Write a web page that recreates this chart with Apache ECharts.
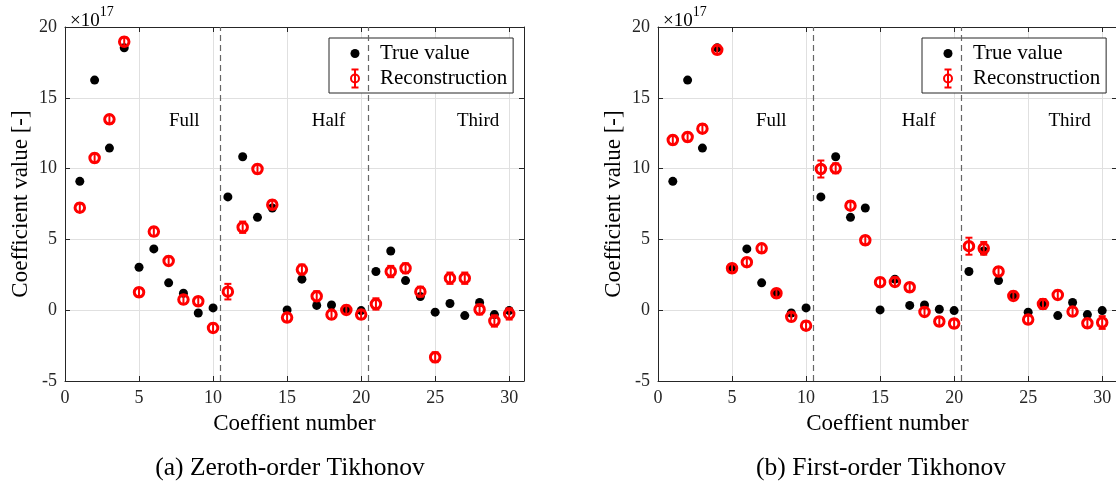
<!DOCTYPE html>
<html>
<head>
	<meta charset="utf-8" />
	<title>Tikhonov coefficients</title>
	<script src="https://cdn.jsdelivr.net/npm/echarts@6/dist/echarts.min.js"></script>
	<style>
		body { margin: 0; background: #fff; }
		#main { width: 1116px; height: 482px; }
	</style>
</head>
<body>
	<div id="main"></div>

	<script type="text/javascript">
		// coefficient index 1..30
		var coeffs = [1,2,3,4,5,6,7,8,9,10,11,12,13,14,15,16,17,18,19,20,21,22,23,24,25,26,27,28,29,30];

		// true values (x1e17), same in both panels
		var trueValue = [9.1,16.25,11.45,18.53,3.03,4.33,1.93,1.2,-0.2,0.16,8.0,10.84,6.56,7.22,0.02,2.19,0.34,0.37,0.07,-0.03,2.73,4.18,2.09,0.96,-0.14,0.47,-0.38,0.54,-0.31,-0.03];

		// (a) zeroth-order Tikhonov
		var reconZeroth = [7.24,10.75,13.48,18.96,1.27,5.55,3.48,0.75,0.63,-1.25,1.31,5.86,9.97,7.45,-0.52,2.87,0.99,-0.31,0.02,-0.31,0.44,2.73,2.96,1.31,-3.32,2.26,2.26,0.05,-0.76,-0.26];
		var errZeroth = [0.3,0.3,0.3,0.3,0.3,0.3,0.3,0.3,0.3,0.3,0.55,0.4,0.3,0.3,0.3,0.35,0.35,0.3,0.3,0.3,0.4,0.4,0.35,0.35,0.35,0.4,0.4,0.35,0.4,0.4];

		// (b) first-order Tikhonov
		var reconFirst = [12.02,12.23,12.82,18.39,2.96,3.39,4.37,1.2,-0.47,-1.09,9.97,10.02,7.38,4.94,1.98,2.0,1.62,-0.12,-0.8,-0.94,4.52,4.37,2.73,1.01,-0.66,0.44,1.08,-0.1,-0.92,-0.87];
		var errFirst = [0.3,0.3,0.3,0.3,0.3,0.3,0.3,0.3,0.3,0.3,0.6,0.35,0.3,0.3,0.3,0.3,0.3,0.3,0.3,0.3,0.6,0.45,0.3,0.3,0.3,0.35,0.3,0.3,0.3,0.45];

		var dividers = [10.5, 20.5];
		var regionNames = ['Full', 'Half', 'Third'];
		var regionXA = [8.05, 17.8, 27.9];
		var regionXB = [7.65, 17.6, 27.8];
		var regionY = 13.35;

		var serif = 'Liberation Serif';
		var axisColor = '#262626';
		var red = '#ff0000';

		var dotIcon = 'path://M5,0M5,20M5,5.5A4.5,4.5,0,1,1,5,14.5A4.5,4.5,0,1,1,5,5.5Z';
		var phiIcon = 'path://M10,10A5,5,0,1,1,0,10A5,5,0,1,1,10,10Z' +
			'M8,10A3,3,0,1,0,2,10A3,3,0,1,0,8,10Z' +
			'M4,0L6,0L6,20L4,20Z' +
			'M1.5,0L8.5,0L8.5,2L1.5,2Z' +
			'M1.5,18L8.5,18L8.5,20L1.5,20Z';

		var myChart = echarts.init(document.getElementById('main'));

		function pairs(ys) {
			var out = [];
			for (var i = 0; i < coeffs.length; i++) out.push([coeffs[i], ys[i]]);
			return out;
		}
		function bars(ys, err) {
			var out = [];
			for (var i = 0; i < coeffs.length; i++) out.push([coeffs[i], ys[i] - err[i], ys[i] + err[i]]);
			return out;
		}
		function regions(xs) {
			var out = [];
			for (var i = 0; i < regionNames.length; i++) out.push([xs[i], regionY, regionNames[i]]);
			return out;
		}

		function renderBar(params, api) {
			var x = api.value(0);
			var top = api.coord([x, api.value(2)]);
			var bot = api.coord([x, api.value(1)]);
			var w = 3.5;
			var st = { stroke: red, lineWidth: 2 };
			return {
				type: 'group',
				children: [
					{ type: 'line', shape: { x1: top[0], y1: top[1], x2: bot[0], y2: bot[1] }, style: st },
					{ type: 'line', shape: { x1: top[0] - w, y1: top[1], x2: top[0] + w, y2: top[1] }, style: st },
					{ type: 'line', shape: { x1: bot[0] - w, y1: bot[1], x2: bot[0] + w, y2: bot[1] }, style: st }
				]
			};
		}

		function xAxisPair(g) {
			var base = {
				gridIndex: g, type: 'value', min: 0, max: 31, interval: 5,
				axisLine: { show: true, onZero: false, lineStyle: { color: axisColor, width: 1 } },
				axisTick: { show: true, inside: true, length: 5, lineStyle: { color: axisColor } }
			};
			return [
				Object.assign({}, base, {
					position: 'bottom',
					name: 'Coeffient number', nameLocation: 'middle', nameGap: 31,
					nameTextStyle: { fontFamily: serif, fontSize: 23, color: '#000' },
					axisLabel: { show: true, margin: 8, fontFamily: serif, fontSize: 18, color: axisColor },
					splitLine: { show: true, lineStyle: { color: '#e0e0e0', width: 1 } }
				}),
				Object.assign({}, base, {
					position: 'top',
					axisLabel: { show: false },
					splitLine: { show: false }
				})
			];
		}
		function yAxisPair(g) {
			var base = {
				gridIndex: g, type: 'value', min: -5, max: 20, interval: 5,
				axisLine: { show: true, onZero: false, lineStyle: { color: axisColor, width: 1 } },
				axisTick: { show: true, inside: true, length: 5, lineStyle: { color: axisColor } }
			};
			return [
				Object.assign({}, base, {
					position: 'left',
					name: 'Coefficient value [-]', nameLocation: 'middle', nameGap: 33,
					nameTextStyle: { fontFamily: serif, fontSize: 23, color: '#000' },
					axisLabel: { show: true, margin: 8, fontFamily: serif, fontSize: 18, color: axisColor },
					splitLine: { show: true, lineStyle: { color: '#e0e0e0', width: 1 } }
				}),
				Object.assign({}, base, {
					position: 'right',
					axisLabel: { show: false },
					splitLine: { show: false }
				})
			];
		}

		function panelSeries(xi, yi, recon, err, xs) {
			return [
				{
					name: 'True value', type: 'scatter', xAxisIndex: xi, yAxisIndex: yi,
					symbol: 'circle', symbolSize: 9,
					itemStyle: { color: '#000', opacity: 1 },
					data: pairs(trueValue), z: 3,
					markLine: {
						silent: true, symbol: 'none', animation: false,
						label: { show: false },
						lineStyle: { type: [6, 4], color: '#666', width: 1.2 },
						data: dividers.map(function (v) { return { xAxis: v }; })
					}
				},
				{
					name: 'Reconstruction', type: 'custom', xAxisIndex: xi, yAxisIndex: yi,
					renderItem: renderBar, data: bars(recon, err), z: 4
				},
				{
					name: 'Reconstruction', type: 'scatter', xAxisIndex: xi, yAxisIndex: yi,
					symbol: 'circle', symbolSize: 9.5,
					itemStyle: { color: 'rgba(0,0,0,0)', borderColor: red, borderWidth: 3, opacity: 1 },
					data: pairs(recon), z: 5
				},
				{
					name: 'regions', type: 'scatter', xAxisIndex: xi, yAxisIndex: yi,
					symbolSize: 0, silent: true,
					label: {
						show: true, position: 'inside', fontFamily: serif, fontSize: 19, color: '#000',
						formatter: function (p) { return p.data[2]; }
					},
					itemStyle: { opacity: 1 },
					data: regions(xs)
				}
			];
		}

		function legendAt(left) {
			return {
				left: left, top: 38, orient: 'vertical',
				backgroundColor: '#fff', borderColor: axisColor, borderWidth: 1, borderRadius: 0,
				padding: [5, 6, 4, 21], itemGap: 4, itemWidth: 40, itemHeight: 20,
				textStyle: { fontFamily: serif, fontSize: 21, color: '#000' },
				selectedMode: false,
				data: [
					{ name: 'True value', icon: dotIcon, itemStyle: { color: '#000', borderWidth: 0 } },
					{ name: 'Reconstruction', icon: phiIcon, itemStyle: { color: red, borderWidth: 0 } }
				]
			};
		}

		function expTitle(left) {
			return {
				left: left, top: 0,
				text: '{a|×10}{b|17}',
				textStyle: {
					fontWeight: 'normal',
					rich: {
						a: { fontFamily: serif, fontSize: 19, fontWeight: 'normal', color: '#000', padding: [7, 0, 0, 0] },
						b: { fontFamily: serif, fontSize: 14, fontWeight: 'normal', color: '#000', verticalAlign: 'top' }
					}
				}
			};
		}
		function caption(center, text) {
			return {
				left: center, top: 450, textAlign: 'center',
				text: text,
				textStyle: { fontFamily: serif, fontSize: 25.5, fontWeight: 'normal', color: '#000' }
			};
		}

		var option = {
			animation: false,
			backgroundColor: '#fff',
			title: [
				expTitle(65), expTitle(658),
				caption(285, '(a) Zeroth-order Tikhonov'),
				caption(876, '(b) First-order Tikhonov')
			],
			legend: [legendAt(329), legendAt(922)],
			grid: [
				{ left: 65, top: 27, width: 459, height: 354, containLabel: false, outerBoundsMode: 'none' },
				{ left: 658, top: 27, width: 459, height: 354, containLabel: false, outerBoundsMode: 'none' }
			],
			xAxis: xAxisPair(0).concat(xAxisPair(1)),
			yAxis: yAxisPair(0).concat(yAxisPair(1)),
			series: panelSeries(0, 0, reconZeroth, errZeroth, regionXA)
				.concat(panelSeries(2, 2, reconFirst, errFirst, regionXB))
		};

		myChart.setOption(option);
	</script>
</body>
</html>
